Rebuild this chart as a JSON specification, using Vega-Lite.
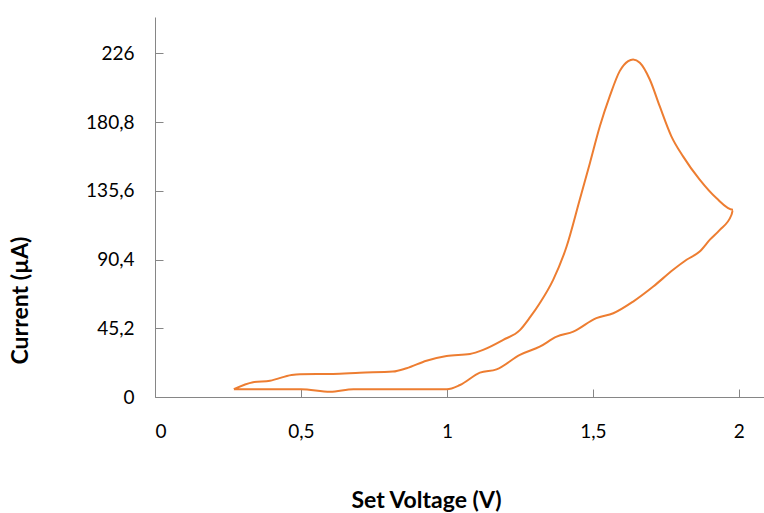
{
  "$schema": "https://vega.github.io/schema/vega-lite/v6.json",
  "autosize": "none",
  "padding": {"left": 155, "top": 17, "right": 0, "bottom": 116},
  "width": 613,
  "height": 380,
  "background": "white",
  "config": {"view": {"stroke": null}},
  "data": {"values": [
    {"i": 1, "v": 0.27, "c": 5.1},
    {"i": 2, "v": 0.336, "c": 9.7},
    {"i": 3, "v": 0.394, "c": 10.7},
    {"i": 4, "v": 0.468, "c": 14.5},
    {"i": 5, "v": 0.497, "c": 15.0},
    {"i": 6, "v": 0.61, "c": 15.2},
    {"i": 7, "v": 0.702, "c": 16.0},
    {"i": 8, "v": 0.815, "c": 16.7},
    {"i": 9, "v": 0.862, "c": 18.9},
    {"i": 10, "v": 0.93, "c": 23.9},
    {"i": 11, "v": 0.999, "c": 27.0},
    {"i": 12, "v": 1.079, "c": 28.3},
    {"i": 13, "v": 1.124, "c": 31.0},
    {"i": 14, "v": 1.193, "c": 37.6},
    {"i": 15, "v": 1.25, "c": 44.0},
    {"i": 16, "v": 1.285, "c": 52.5},
    {"i": 17, "v": 1.318, "c": 61.7},
    {"i": 18, "v": 1.364, "c": 77.1},
    {"i": 19, "v": 1.41, "c": 99.0},
    {"i": 20, "v": 1.455, "c": 129.8},
    {"i": 21, "v": 1.49, "c": 154.0},
    {"i": 22, "v": 1.524, "c": 178.1},
    {"i": 23, "v": 1.558, "c": 197.9},
    {"i": 24, "v": 1.592, "c": 214.4},
    {"i": 25, "v": 1.621, "c": 221.0},
    {"i": 26, "v": 1.638, "c": 222.1},
    {"i": 27, "v": 1.661, "c": 219.9},
    {"i": 28, "v": 1.695, "c": 208.9},
    {"i": 29, "v": 1.729, "c": 191.3},
    {"i": 30, "v": 1.769, "c": 171.5},
    {"i": 31, "v": 1.809, "c": 158.3},
    {"i": 32, "v": 1.866, "c": 143.0},
    {"i": 33, "v": 1.923, "c": 130.9},
    {"i": 34, "v": 1.98, "c": 123.2},
    {"i": 35, "v": 1.975, "c": 119.9},
    {"i": 36, "v": 1.935, "c": 110.0},
    {"i": 37, "v": 1.901, "c": 103.5},
    {"i": 38, "v": 1.866, "c": 95.7},
    {"i": 39, "v": 1.821, "c": 90.3},
    {"i": 40, "v": 1.775, "c": 83.7},
    {"i": 41, "v": 1.707, "c": 72.7},
    {"i": 42, "v": 1.638, "c": 62.8},
    {"i": 43, "v": 1.57, "c": 55.1},
    {"i": 44, "v": 1.512, "c": 51.9},
    {"i": 45, "v": 1.433, "c": 43.0},
    {"i": 46, "v": 1.376, "c": 39.7},
    {"i": 47, "v": 1.318, "c": 33.1},
    {"i": 48, "v": 1.25, "c": 27.7},
    {"i": 49, "v": 1.17, "c": 18.2},
    {"i": 50, "v": 1.113, "c": 16.0},
    {"i": 51, "v": 1.045, "c": 7.9},
    {"i": 52, "v": 1.0, "c": 5.1},
    {"i": 53, "v": 0.68, "c": 5.1},
    {"i": 54, "v": 0.6, "c": 3.5},
    {"i": 55, "v": 0.5, "c": 5.1},
    {"i": 56, "v": 0.27, "c": 5.1}
  ]},
  "mark": {"type": "line", "color": "#ED7D31", "strokeWidth": 2, "interpolate": "monotone"},
  "encoding": {
    "order": {"field": "i", "type": "quantitative"},
    "x": {
      "field": "v", "type": "quantitative",
      "scale": {"domain": [0, 2.1], "nice": false, "zero": false},
      "axis": {
        "values": [0, 0.5, 1, 1.5, 2],
        "labelExpr": "replace(format(datum.value, '~g'), '.', ',')",
        "grid": false, "domainColor": "#868686", "tickColor": "#868686",
        "tickSize": -8, "labelPadding": 33,
        "labelFont": "Lato", "labelFontSize": 19, "labelColor": "#000000",
        "title": "Set Voltage (V)", "titleFont": "Lato", "titleFontSize": 23,
        "titleFontWeight": "bold", "titleColor": "#000000",
        "titleX": 271, "titleY": 103, "titleAlign": "center", "titleBaseline": "middle"
      }
    },
    "y": {
      "field": "c", "type": "quantitative",
      "scale": {"domain": [0, 250], "nice": false},
      "axis": {
        "values": [0, 45.2, 90.4, 135.6, 180.8, 226],
        "labelExpr": "replace(format(datum.value, '.1~f'), '.', ',')",
        "grid": false, "domainColor": "#868686", "tickColor": "#868686",
        "tickSize": -8, "labelPadding": 29,
        "labelFont": "Lato", "labelFontSize": 19, "labelColor": "#000000",
        "title": "Current (µA)", "titleFont": "Lato", "titleFontSize": 23,
        "titleFontWeight": "bold", "titleColor": "#000000",
        "titleX": -135, "titleY": 283, "titleAlign": "center", "titleBaseline": "middle", "titleAngle": -90
      }
    }
  }
}
